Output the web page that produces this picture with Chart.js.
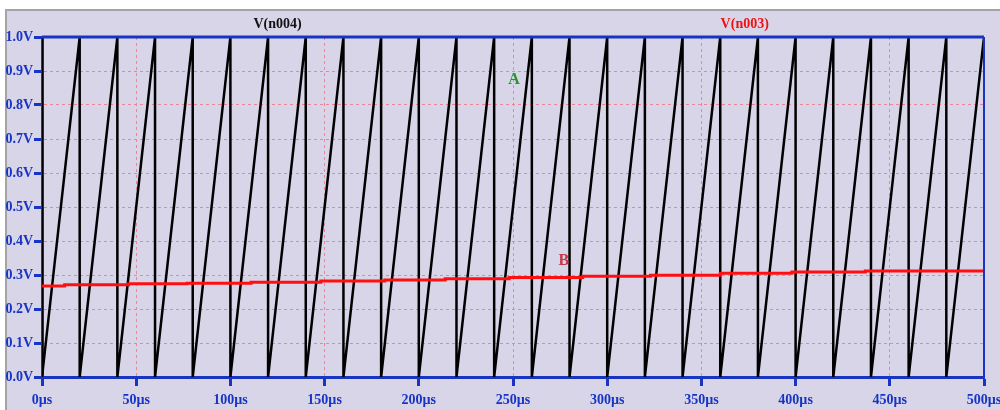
<!DOCTYPE html>
<html>
<head>
<meta charset="utf-8">
<script src="https://cdn.jsdelivr.net/npm/chart.js@4/dist/chart.umd.min.js"></script>
<style>
	html, body { margin: 0; padding: 0; background: #fff; }
	canvas { display: block; }
</style>
</head>
<body>
<canvas id="wave" width="1000" height="410"></canvas>
<script>
"use strict";

// time in µs, voltage in V
const sawTimes = [0, 0, 20, 20, 40, 40, 60, 60, 80, 80, 100, 100, 120, 120, 140, 140,
	160, 160, 180, 180, 200, 200, 220, 220, 240, 240, 260, 260, 280, 280, 300, 300,
	320, 320, 340, 340, 360, 360, 380, 380, 400, 400, 420, 420, 440, 440, 460, 460,
	480, 480, 500]
const sawVolts = [1, 0, 1, 0, 1, 0, 1, 0, 1, 0, 1, 0, 1, 0, 1, 0,
	1, 0, 1, 0, 1, 0, 1, 0, 1, 0, 1, 0, 1, 0, 1, 0,
	1, 0, 1, 0, 1, 0, 1, 0, 1, 0, 1, 0, 1, 0, 1, 0,
	1, 0, 1]

const rampTimes = [0, 12, 46, 77, 111, 148, 182, 214, 248, 287, 323, 360, 398, 437, 476, 500]
const rampVolts = [0.264, 0.268, 0.271, 0.274, 0.276, 0.279, 0.282, 0.285, 0.289,
	0.293, 0.296, 0.299, 0.305, 0.309, 0.312, 0.312]

const traceNames = ['V(n004)', 'V(n003)']
const markLabels = ['A', 'B']

const BLUE = '#1834c2'
const GRID = '#ec8596'
const FONT = 'bold 14px "Liberation Serif", "DejaVu Serif", serif'

const toPoints = (xs, ys) => xs.map((x, i) => ({ x: x, y: ys[i] }))

const frame = {
	id: 'frame',
	beforeDraw(chart) {
		const ctx = chart.ctx
		ctx.save()
		ctx.fillStyle = '#ffffff'
		ctx.fillRect(0, 0, chart.width, chart.height)
		ctx.fillStyle = '#d9d5e9'
		ctx.fillRect(7, 11, chart.width - 7, chart.height - 11)
		ctx.strokeStyle = '#a3a3a8'
		ctx.lineWidth = 2
		ctx.beginPath()
		ctx.moveTo(6, chart.height)
		ctx.lineTo(6, 10)
		ctx.lineTo(chart.width, 10)
		ctx.stroke()
		ctx.restore()
	},
	afterDatasetsDraw(chart) {
		const ctx = chart.ctx
		const a = chart.chartArea
		const xs = chart.scales.x
		const ys = chart.scales.y
		ctx.save()
		ctx.strokeStyle = BLUE
		ctx.lineWidth = 3
		ctx.beginPath()
		ctx.moveTo(a.left, a.top)
		ctx.lineTo(a.right, a.top)
		ctx.stroke()
		ctx.lineWidth = 2
		ctx.beginPath()
		ctx.moveTo(a.right, a.top)
		ctx.lineTo(a.right, a.bottom)
		ctx.stroke()

		ctx.font = FONT
		ctx.textAlign = 'center'
		ctx.textBaseline = 'middle'
		ctx.fillStyle = '#111111'
		ctx.fillText(traceNames[0], xs.getPixelForValue(125), 24)
		ctx.fillStyle = '#ee1111'
		ctx.fillText(traceNames[1], xs.getPixelForValue(373), 24)

		ctx.font = 'bold 16px "Liberation Serif", "DejaVu Serif", serif'
		ctx.fillStyle = '#1e9a2a'
		ctx.fillText(markLabels[0], xs.getPixelForValue(250.5), ys.getPixelForValue(0.875))
		ctx.fillStyle = '#c23a4c'
		ctx.fillText(markLabels[1], xs.getPixelForValue(277), ys.getPixelForValue(0.343))
		ctx.restore()
	}
}

new Chart(document.getElementById('wave'), {
	type: 'line',
	data: {
		datasets: [{
			label: traceNames[1],
			data: toPoints(rampTimes, rampVolts),
			borderColor: '#ff0f0f',
			borderWidth: 3,
			stepped: 'after',
			pointRadius: 0
		}, {
			label: traceNames[0],
			data: toPoints(sawTimes, sawVolts),
			borderColor: '#000000',
			borderWidth: 2.5,
			pointRadius: 0
		}]
	},
	options: {
		responsive: false,
		animation: false,
		layout: { padding: { top: 37, right: 16, left: 0, bottom: 0 } },
		plugins: { legend: { display: false }, tooltip: { enabled: false } },
		elements: { line: { tension: 0 } },
		scales: {
			x: {
				type: 'linear',
				min: 0,
				max: 500,
				afterFit(scale) {
					scale.height = 33
					scale.paddingLeft = 0
					scale.paddingRight = 0
				},
				ticks: {
					stepSize: 50,
					autoSkip: false,
					maxRotation: 0,
					padding: 6,
					color: BLUE,
					font: { family: '"Liberation Serif", "DejaVu Serif", serif', size: 14, weight: 'bold' },
					callback: (v) => v + 'µs'
				},
				grid: {
					color: GRID,
					lineWidth: 1,
					tickColor: BLUE,
					tickWidth: 3,
					tickLength: 9,
					tickBorderDash: []
				},
				border: { color: BLUE, width: 3, dash: [3, 3] }
			},
			y: {
				min: 0,
				max: 1,
				afterFit(scale) {
					scale.width = 42
					scale.paddingTop = 0
					scale.paddingBottom = 0
				},
				ticks: {
					stepSize: 0.1,
					padding: 1,
					color: BLUE,
					font: { family: '"Liberation Serif", "DejaVu Serif", serif', size: 14, weight: 'bold' },
					callback: (v) => v.toFixed(1) + 'V'
				},
				grid: {
					color: GRID,
					lineWidth: 1,
					tickColor: BLUE,
					tickWidth: 3,
					tickLength: 8,
					tickBorderDash: []
				},
				border: { color: BLUE, width: 3, dash: [3, 3] }
			}
		}
	},
	plugins: [frame]
})
</script>
</body>
</html>
